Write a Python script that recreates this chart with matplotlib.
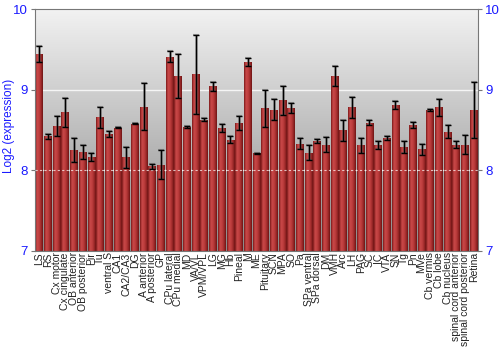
import matplotlib
matplotlib.use('Agg')
import matplotlib.pyplot as plt
import numpy as np

regions = ['LS', 'RS', 'Cx motor', 'Cx cingulate', 'OB anterior', 'OB posterior',
           'Pir', 'Tu', 'ventral S', 'CA1', 'CA2/CA3', 'DG', 'A anterior',
           'A posterior', 'GP', 'CPu lateral', 'CPu medial', 'MD', 'VA/VL',
           'VPM/VPL', 'LG', 'MG', 'Hb', 'Pineal', 'M', 'ME', 'Pituitary', 'SCN',
           'MPA', 'SO', 'Pa', 'SPa ventral', 'SPa dorsal', 'DM', 'VMH', 'Arc',
           'LH', 'PAG', 'SC', 'IC', 'VTA', 'SN', 'Tg', 'Pn', 'MVe', 'Cb vermis',
           'Cb lobe', 'Cb nucleus', 'spinal cord anterior',
           'spinal cord posterior', 'Retina']
expr = [9.44, 8.42, 8.55, 8.72, 8.25, 8.23, 8.17, 8.66, 8.45, 8.53, 8.16, 8.58,
        8.79, 8.05, 8.07, 9.41, 9.17, 8.54, 9.19, 8.63, 9.04, 8.53, 8.38, 8.59,
        9.34, 8.21, 8.77, 8.75, 8.87, 8.77, 8.33, 8.22, 8.36, 8.32, 9.17, 8.50,
        8.78, 8.31, 8.59, 8.31, 8.40, 8.81, 8.29, 8.56, 8.26, 8.75, 8.78, 8.48,
        8.32, 8.32, 8.75]
err = [0.10, 0.03, 0.13, 0.18, 0.15, 0.09, 0.05, 0.13, 0.04, 0.01, 0.13, 0.01,
       0.29, 0.03, 0.18, 0.07, 0.27, 0.01, 0.49, 0.02, 0.05, 0.05, 0.04, 0.09,
       0.05, 0.01, 0.23, 0.13, 0.18, 0.06, 0.07, 0.09, 0.025, 0.09, 0.13, 0.13,
       0.13, 0.09, 0.03, 0.05, 0.02, 0.05, 0.08, 0.04, 0.07, 0.01, 0.10, 0.08,
       0.04, 0.12, 0.35]

plt.rcParams['font.family'] = ['Liberation Sans', 'DejaVu Sans']
blue = '#1a1aff'
fig = plt.figure(figsize=(5, 3.5), dpi=100)
ax = fig.add_axes([0.07, 0.283, 0.886, 0.691])

x = np.arange(len(regions))
ymin, ymax = 7, 10
ax.set_xlim(-0.5, len(regions) - 0.5)
ax.set_ylim(ymin, ymax)

# vertical gray gradient background
bg = np.linspace(0, 1, 256).reshape(-1, 1)
ax.imshow(bg, extent=[-0.5, len(regions) - 0.5, ymin, ymax], aspect='auto',
          cmap=matplotlib.colors.LinearSegmentedColormap.from_list(
              'bg', ['#8a8a8a', '#f2f2f2']), origin='lower', zorder=0)

# horizontal gradient for bars
bar_cmap = matplotlib.colors.LinearSegmentedColormap.from_list(
    'bar', ['#7a1818', '#c84848', '#c04040', '#a22c2c', '#6e1414'])
grad = np.linspace(0, 1, 64).reshape(1, -1)
bars = ax.bar(x, np.array(expr) - ymin, bottom=ymin, width=0.9,
              color='none', edgecolor='none', zorder=2)
for b in bars:
    bx, by = b.get_x(), b.get_y()
    im = ax.imshow(grad, extent=[bx, bx + b.get_width(), by, by + b.get_height()],
                   aspect='auto', cmap=bar_cmap, zorder=2)
    im.set_clip_path(b)

for yg in (8, 9):
    ax.axhline(yg, color='white', lw=1, alpha=0.8, zorder=1)
ax.axhline(8, color='white', lw=0.8, ls=(0, (2, 2)), alpha=0.7, zorder=3)

ax.errorbar(x, expr, yerr=err, fmt='none', ecolor='#555555', elinewidth=2,
            capsize=2.5, capthick=1.5, alpha=0.5, zorder=4)
ax.errorbar(x, expr, yerr=err, fmt='none', ecolor='black', elinewidth=0.9,
            capsize=2, capthick=1, zorder=5)

ax.set_xticks(x)
ax.set_xticklabels(regions, rotation=90, fontsize=7.5, color='#222222')
ax.tick_params(axis='x', length=0, pad=1)
ax.set_yticks([7, 8, 9, 10])
ax.tick_params(axis='y', colors=blue, labelsize=9.5, length=3, pad=2,
               left=True, right=True, labelleft=True, labelright=True)
ax.tick_params(axis='y', which='both', color='#777777')
ax.set_ylabel('Log2 (expression)', color=blue, fontsize=8.5,
              family=['Liberation Sans Narrow', 'Liberation Sans'])
ax.yaxis.set_label_coords(-0.046, 0.517)
for s in ax.spines.values():
    s.set_color('#777777')

fig.savefig('out.png', dpi=100)
